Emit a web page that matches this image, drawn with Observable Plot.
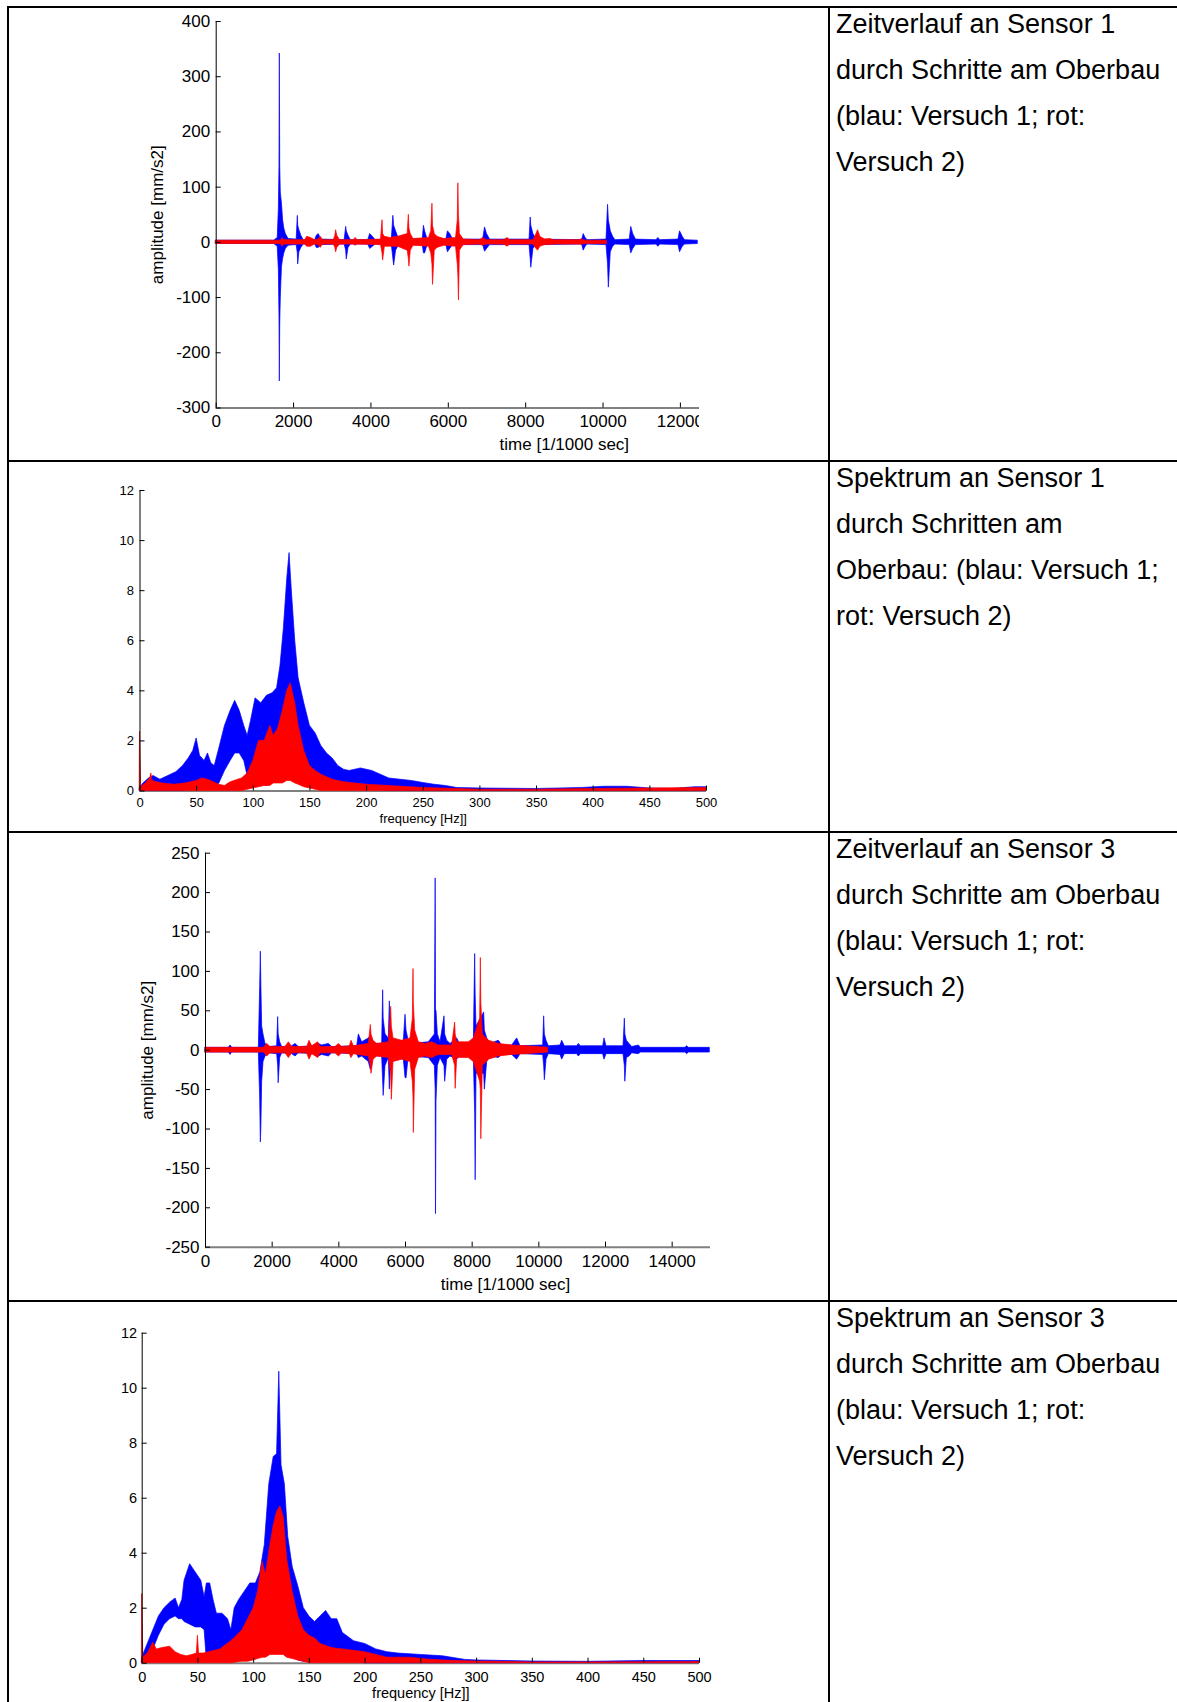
<!DOCTYPE html>
<html><head><meta charset="utf-8">
<script src="https://cdn.jsdelivr.net/npm/d3@7"></script>
<script src="https://cdn.jsdelivr.net/npm/@observablehq/plot@0.6"></script>
<style>
body{margin:0;background:#fff;}
#page{position:relative;width:1177px;height:1702px;overflow:hidden;background:#fff;font-family:Arial,"Liberation Sans",Helvetica,sans-serif;}
.hl{position:absolute;height:2px;background:#000;z-index:5;}
.vl{position:absolute;width:2px;background:#000;z-index:5;}
.cell{position:absolute;font-size:27px;line-height:46px;color:#000;white-space:nowrap;z-index:6;}
.pbox{position:absolute;overflow:hidden;}
</style></head>
<body><div id="page"></div>
<script>
// ---------- texts ----------
const cellTexts = [
  ["Zeitverlauf an Sensor 1","durch Schritte am Oberbau","(blau: Versuch 1; rot:","Versuch 2)"],
  ["Spektrum an Sensor 1","durch Schritten am","Oberbau: (blau: Versuch 1;","rot: Versuch 2)"],
  ["Zeitverlauf an Sensor 3","durch Schritte am Oberbau","(blau: Versuch 1; rot:","Versuch 2)"],
  ["Spektrum an Sensor 3","durch Schritte am Oberbau","(blau: Versuch 1; rot:","Versuch 2)"]
];
const timeLabel = "time [1/1000 sec]";
const ampLabel = "amplitude [mm/s2]";
const freqLabel = "frequency [Hz]]";

// ---------- ticks ----------
const ts1XTicks = [0,2000,4000,6000,8000,10000,12000];
const ts1YTicks = [-300,-200,-100,0,100,200,300,400];
const ts3XTicks = [0,2000,4000,6000,8000,10000,12000,14000];
const ts3YTicks = [-250,-200,-150,-100,-50,0,50,100,150,200,250];
const specXTicks = [0,50,100,150,200,250,300,350,400,450,500];
const specYTicks = [0,2,4,6,8,10,12];

// ---------- Sensor 1 time series envelopes [time, upper, lower] ----------
const ts1Blue = [
[0,3,-3],[1500,3,-3],[1590,8,-8],[1620,60,-50],[1635,135,-130],[1645,342,-252],[1655,140,-150],[1670,90,-100],
[1700,70,-45],[1730,40,-30],[1760,25,-20],[1800,15,-12],[1870,6,-6],[2080,5,-5],[2110,48,-20],[2120,30,-40],
[2150,22,-18],[2200,12,-10],[2260,4,-4],[2560,4,-4],[2600,12,-10],[2650,15,-10],[2720,5,-5],[3320,4,-4],
[3360,28,-15],[3375,20,-31],[3420,12,-10],[3480,4,-4],[3930,4,-4],[3980,15,-12],[4050,10,-8],[4120,4,-4],
[4540,5,-5],[4580,48,-30],[4600,30,-42],[4650,20,-15],[4720,6,-6],[5340,5,-5],[5370,30,-20],[5400,20,-20],
[5460,6,-6],[5950,5,-5],[5990,20,-18],[6050,15,-12],[6120,5,-5],[6900,5,-5],[6950,27,-17],[7000,15,-12],
[7080,5,-5],[8100,5,-5],[8130,45,-30],[8145,30,-46],[8200,15,-12],[8280,5,-5],[9460,4,-4],[9500,15,-15],
[9550,8,-8],[9600,4,-4],[10090,5,-5],[10130,68,-40],[10150,40,-82],[10200,20,-18],[10260,10,-8],[10320,4,-4],
[10690,5,-5],[10730,28,-20],[10780,15,-12],[10850,5,-5],[11380,4,-4],[11430,8,-8],[11480,4,-4],[11950,5,-5],
[11990,20,-18],[12060,10,-8],[12120,4,-4],[12450,3,-3]
];
const ts1Red = [
[0,3,-3],[1680,3,-3],[1710,8,-8],[1760,4,-4],[2300,4,-4],[2350,10,-8],[2450,8,-8],[2550,4,-4],[2650,5,-5],
[2700,10,-10],[2760,4,-4],[3040,4,-4],[3080,12,-10],[3100,22,-18],[3130,12,-10],[3200,4,-4],[3560,4,-4],
[3600,8,-6],[3660,4,-4],[4260,5,-5],[4300,40,-20],[4315,15,-33],[4360,10,-8],[4500,8,-8],[4700,10,-8],
[4950,15,-15],[4980,50,-30],[4995,25,-44],[5030,15,-15],[5100,6,-6],[5500,8,-8],[5560,20,-20],[5590,70,-40],
[5605,30,-77],[5650,15,-15],[5720,10,-10],[5900,6,-6],[6200,8,-8],[6245,40,-40],[6260,107,-60],[6275,50,-105],
[6300,15,-15],[6400,5,-5],[6820,4,-4],[6900,8,-6],[7000,4,-4],[7450,4,-4],[7530,8,-8],[7600,4,-4],[8200,4,-4],
[8280,15,-12],[8320,22,-15],[8380,10,-8],[8500,5,-5],[8650,6,-5],[8700,4,-4],[9400,4,-4],[9460,6,-5],
[9520,3,-3],[10100,3,-3]
];

// ---------- Sensor 1 spectrum envelopes [Hz, upper, lower] ----------
const spec1Blue = [
[0,0.1,0],[3,0.3,0],[8,0.5,0],[12,0.6,0],[18,0.45,0],[25,0.6,0],[32,0.75,0],[38,1.0,0],[43,1.3,0.05],
[47,1.6,0.1],[50,2.1,0.1],[53,1.4,0.1],[57,1.2,0.1],[60,1.5,0.1],[63,1.1,0.1],[66,1.0,0.1],[70,1.7,0.3],
[75,2.6,0.8],[80,3.2,1.2],[84,3.6,1.5],[88,3.2,1.5],[92,2.6,1.2],[95,2.2,0.6],[98,2.8,0.3],[102,3.7,0.2],
[107,3.5,0.3],[112,3.8,0.2],[117,3.9,0.3],[121,4.1,0.5],[124,5.0,0.5],[127,6.5,0.6],[130,8.5,0.8],[132,9.5,0.8],
[134,8.0,0.8],[137,6.0,0.6],[140,4.5,0.5],[145,3.5,0.4],[150,2.6,0.3],[155,2.3,0.2],[160,1.8,0.15],[165,1.5,0.1],
[170,1.3,0.1],[175,1.0,0.05],[180,0.85,0.05],[185,0.8,0.05],[190,0.85,0.05],[195,0.9,0.05],[200,0.85,0.05],
[205,0.8,0.05],[210,0.7,0.05],[220,0.5,0],[230,0.45,0],[240,0.4,0],[250,0.32,0],[260,0.25,0],[270,0.2,0],
[280,0.12,0],[300,0.1,0],[350,0.08,0],[390,0.12,0],[410,0.17,0],[430,0.17,0],[450,0.1,0],[470,0.08,0],
[490,0.15,0],[500,0.15,0]
];
const spec1Red = [
[0,2.35,0],[1,0.15,0],[5,0.3,0],[9,0.5,0],[10,0.7,0],[11,0.4,0],[15,0.35,0],[20,0.3,0],[30,0.25,0],[40,0.3,0],
[50,0.4,0],[55,0.5,0],[60,0.45,0],[65,0.35,0],[70,0.25,0],[75,0.2,0],[80,0.35,0],[90,0.5,0],[95,0.7,0.05],
[100,1.2,0.1],[105,2.0,0.15],[110,2.0,0.2],[115,2.6,0.2],[118,2.2,0.3],[122,2.5,0.3],[126,3.2,0.3],[130,4.0,0.4],
[133,4.3,0.4],[137,3.5,0.3],[140,2.6,0.25],[145,1.6,0.15],[150,1.0,0.1],[155,0.8,0.05],[160,0.65,0],[170,0.45,0],
[180,0.35,0],[190,0.3,0],[200,0.25,0],[220,0.2,0],[250,0.12,0],[300,0.05,0],[350,0.05,0],[400,0.08,0],
[450,0.1,0],[500,0.12,0]
];

// ---------- Sensor 3 time series envelopes ----------
const ts3Blue = [
[0,3,-3],[700,3,-3],[750,6,-6],[800,3,-3],[1600,3,-3],[1640,80,-60],[1660,125,-117],[1675,85,-100],[1700,30,-40],
[1740,20,-15],[1800,8,-8],[1900,4,-4],[2150,5,-5],[2180,42,-20],[2195,20,-42],[2240,10,-10],[2300,4,-4],
[2600,5,-5],[2700,8,-8],[2800,4,-4],[3300,5,-5],[3400,8,-8],[3500,6,-6],[3700,8,-8],[3800,4,-4],[4550,5,-5],
[4600,20,-10],[4700,10,-8],[4900,15,-15],[4960,18,-25],[5050,8,-8],[5300,8,-8],[5330,76,-40],[5345,40,-58],
[5400,20,-20],[5500,15,-10],[5530,62,-50],[5560,20,-20],[5650,10,-10],[5950,12,-12],[6000,45,-35],[6030,25,-36],
[6080,15,-15],[6150,8,-8],[6700,10,-10],[6880,20,-20],[6905,218,-50],[6915,50,-208],[6930,50,-65],[6970,20,-20],
[7050,10,-10],[7170,43,-20],[7190,20,-40],[7250,12,-12],[7350,8,-8],[7550,15,-12],[7650,6,-6],[8050,10,-10],
[8090,122,-80],[8105,70,-165],[8130,30,-30],[8360,48,-30],[8380,25,-50],[8450,15,-15],[8550,8,-8],[8800,12,-10],
[8900,6,-6],[9200,6,-6],[9350,15,-12],[9450,5,-5],[10130,6,-6],[10160,43,-20],[10180,20,-38],[10230,12,-12],
[10300,5,-5],[10650,6,-6],[10700,12,-12],[10780,5,-5],[11150,5,-5],[11200,8,-8],[11260,5,-5],[11930,5,-5],
[11970,15,-12],[12030,5,-5],[12540,5,-5],[12580,40,-20],[12595,20,-40],[12640,12,-10],[12720,8,-8],[12800,4,-4],
[13000,6,-5],[13060,3,-3],[14400,3,-3],[14450,5,-5],[14500,3,-3],[15130,3,-3]
];
const ts3Red = [
[0,3,-3],[1750,3,-3],[1850,8,-8],[1950,4,-4],[2400,4,-4],[2500,10,-10],[2600,4,-4],[3050,4,-4],[3120,12,-12],
[3200,5,-5],[3380,10,-10],[3450,4,-4],[3900,4,-4],[4000,8,-8],[4100,4,-4],[4330,5,-5],[4380,12,-10],[4450,5,-5],
[4900,8,-8],[4960,32,-20],[4980,20,-30],[5040,12,-12],[5150,8,-8],[5500,10,-10],[5570,55,-30],[5590,30,-63],
[5640,15,-15],[5900,12,-12],[6150,15,-15],[6220,40,-40],[6240,103,-60],[6250,60,-105],[6290,25,-25],[6400,10,-10],
[6600,8,-8],[6800,10,-10],[7000,6,-6],[7400,6,-6],[7490,35,-20],[7505,20,-49],[7550,10,-10],[7900,10,-10],
[8050,15,-15],[8240,40,-40],[8260,117,-50],[8275,60,-113],[8320,20,-20],[8500,12,-12],[8800,8,-8],[9200,6,-6],
[9600,5,-5],[10280,3,-3]
];

// ---------- Sensor 3 spectrum envelopes ----------
const spec3Blue = [
[0,0.2,0],[5,0.7,0.2],[10,1.2,0.5],[15,1.7,1.0],[20,2.0,1.4],[25,2.2,1.6],[30,2.35,1.7],[33,2.0,1.6],[36,2.3,1.6],
[38,3.0,1.5],[43,3.6,1.4],[48,3.3,1.3],[53,3.0,1.3],[56,2.4,1.2],[58,2.9,0.1],[61,2.9,0.05],[64,2.3,0.05],
[67,1.8,0.05],[72,1.8,0.05],[77,1.6,0.05],[80,1.2,0.1],[83,2.0,0.1],[87,2.3,0.15],[92,2.6,0.15],[97,2.9,0.2],
[102,2.9,0.2],[106,3.3,0.3],[110,4.3,0.3],[114,6.5,0.4],[118,7.5,0.5],[121,7.6,0.5],[123,10.6,0.5],[125,7.2,0.5],
[128,6.5,0.4],[131,4.6,0.3],[135,3.5,0.2],[140,2.8,0.1],[145,2.0,0.05],[150,1.7,0.05],[155,1.5,0.05],[160,1.7,0.05],
[165,1.9,0.05],[170,1.6,0.05],[175,1.6,0.05],[180,1.1,0.05],[190,0.8,0.05],[200,0.7,0],[210,0.5,0],[220,0.4,0],
[230,0.35,0],[250,0.3,0],[270,0.25,0],[290,0.12,0],[300,0.1,0],[350,0.06,0],[400,0.05,0],[450,0.08,0],[500,0.08,0]
];
const spec3Red = [
[0,2.5,0],[1,0.2,0],[5,0.35,0],[10,0.75,0],[13,0.5,0],[18,0.55,0],[25,0.6,0],[30,0.4,0],[35,0.3,0],[40,0.25,0],
[45,0.3,0],[49,0.35,0],[50,1.0,0],[51,0.35,0],[55,0.35,0],[60,0.4,0],[70,0.5,0],[80,0.8,0],[90,1.2,0.05],
[95,1.6,0.05],[100,2.0,0.1],[104,2.6,0.15],[108,3.7,0.2],[111,3.2,0.2],[115,4.3,0.3],[118,5.0,0.3],[121,5.5,0.3],
[124,5.7,0.3],[127,5.3,0.3],[130,3.8,0.2],[135,2.6,0.15],[140,1.7,0.1],[145,1.2,0.05],[150,1.0,0],[155,0.9,0],
[160,0.7,0],[170,0.55,0],[180,0.5,0],[190,0.45,0],[200,0.4,0],[210,0.3,0],[220,0.2,0],[240,0.2,0],[260,0.12,0],
[280,0.08,0],[300,0.06,0],[350,0.03,0],[400,0.03,0],[500,0.04,0]
];

const BLUE = "#0000ff", RED = "#ff0000";
const page = document.getElementById("page");
const fmt = d => String(d);

function chart(cfg) {
  const {box, frame} = cfg;
  const mR = 24;
  const W = Math.round(frame.x1 - box.left + mR);
  const H = box.bottom - box.top;
  const marks = [
    Plot.ruleY([cfg.yDomain[0]], {stroke: "#808080", strokeWidth: 2}),
    ...cfg.series.map(s => Plot.areaY(s.data, {x: d => d[0], y1: d => d[2], y2: d => d[1], fill: s.color, stroke: s.color, strokeWidth: 0.7, curve: "linear"})),
    Plot.ruleX([cfg.xDomain[0]], {stroke: "black", strokeWidth: 1}),
    Plot.axisY(cfg.yTicks, {tickSize: 0, tickPadding: cfg.padY, fontSize: cfg.font, tickFormat: fmt, label: null}),
    Plot.axisY(cfg.yTicks, {tickSize: 5, dx: 5, tickFormat: () => "", label: null}),
    Plot.axisX(cfg.xTicks, {tickSize: 0, tickPadding: cfg.padX, fontSize: cfg.font, tickFormat: fmt, label: null}),
    Plot.axisX(cfg.xTicks, {tickSize: 5, dy: -5, tickFormat: () => "", label: null}),
    Plot.text([cfg.xLabel], {text: d => d, frameAnchor: "bottom", textAnchor: "middle", dy: cfg.xLabelDy, fontSize: cfg.labelFont, fill: "black"})
  ];
  if (cfg.yLabel) marks.push(Plot.text([cfg.yLabel], {text: d => d, frameAnchor: "left", textAnchor: "middle", rotate: -90, dx: -cfg.yLabelDx, fontSize: cfg.labelFont, fill: "black"}));
  const svg = Plot.plot({
    width: W, height: H,
    marginLeft: frame.x0 - box.left, marginRight: mR,
    marginTop: frame.y0 - box.top, marginBottom: box.bottom - frame.y1,
    x: {domain: cfg.xDomain},
    y: {domain: cfg.yDomain},
    style: {fontFamily: 'Arial, "Liberation Sans", Helvetica, sans-serif', color: "black", background: "white", maxWidth: "none", overflow: "hidden"},
    marks
  });
  const div = document.createElement("div");
  div.className = "pbox";
  div.style.left = box.left + "px";
  div.style.top = box.top + "px";
  div.style.width = ((cfg.cropRight ?? (box.left + W)) - box.left) + "px";
  div.style.height = H + "px";
  div.appendChild(svg);
  page.appendChild(div);
}

// Sensor 1 time series
chart({box: {left: 120, top: 9, bottom: 458}, frame: {x0: 215.7, x1: 215.7 + 9 * 77.4, y0: 21, y1: 407.5},
  cropRight: 699, xDomain: [0, 18000], yDomain: [-300, 400], xTicks: ts1XTicks, yTicks: ts1YTicks,
  series: [{data: ts1Blue, color: BLUE}, {data: ts1Red, color: RED}],
  font: 17, labelFont: 17, padX: 7, padY: 6, xLabel: timeLabel, xLabelDy: 42, yLabel: ampLabel, yLabelDx: 59});

// Sensor 1 spectrum
chart({box: {left: 80, top: 464, bottom: 830}, frame: {x0: 139.5, x1: 706, y0: 490, y1: 790.5},
  xDomain: [0, 500], yDomain: [0, 12], xTicks: specXTicks, yTicks: specYTicks,
  series: [{data: spec1Blue, color: BLUE}, {data: spec1Red, color: RED}],
  font: 13, labelFont: 13, padX: 7, padY: 6, xLabel: freqLabel, xLabelDy: 31.5});

// Sensor 3 time series
chart({box: {left: 110, top: 835, bottom: 1298}, frame: {x0: 205, x1: 205 + 9 * 66.7, y0: 852.7, y1: 1246.7},
  cropRight: 710, xDomain: [0, 18000], yDomain: [-250, 250], xTicks: ts3XTicks, yTicks: ts3YTicks,
  series: [{data: ts3Blue, color: BLUE}, {data: ts3Red, color: RED}],
  font: 17, labelFont: 17, padX: 8, padY: 6, xLabel: timeLabel, xLabelDy: 42.8, yLabel: ampLabel, yLabelDx: 57.5});

// Sensor 3 spectrum
chart({box: {left: 80, top: 1304, bottom: 1702}, frame: {x0: 141.7, x1: 698.7, y0: 1332.7, y1: 1662.7},
  xDomain: [0, 500], yDomain: [0, 12], xTicks: specXTicks, yTicks: specYTicks,
  series: [{data: spec3Blue, color: BLUE}, {data: spec3Red, color: RED}],
  font: 14.5, labelFont: 14.5, padX: 8.5, padY: 5, xLabel: freqLabel, xLabelDy: 35});

// ---------- table borders ----------
function line(cls, l, t, w, h) {
  const d = document.createElement("div");
  d.className = cls;
  d.style.left = l + "px"; d.style.top = t + "px";
  if (w != null) d.style.width = w + "px";
  if (h != null) d.style.height = h + "px";
  page.appendChild(d);
}
const rowTops = [6, 460, 831, 1300];
rowTops.forEach(t => line("hl", 7, t, 1170, null));
line("vl", 7, 6, null, 1696);
line("vl", 828, 6, null, 1696);

// ---------- text cells ----------
cellTexts.forEach((lines, i) => {
  const d = document.createElement("div");
  d.className = "cell";
  d.style.left = "836px";
  d.style.top = (rowTops[i] - 5) + "px";
  d.innerHTML = lines.map(s => `<div>${s}</div>`).join("");
  page.appendChild(d);
});
</script>
</body></html>
